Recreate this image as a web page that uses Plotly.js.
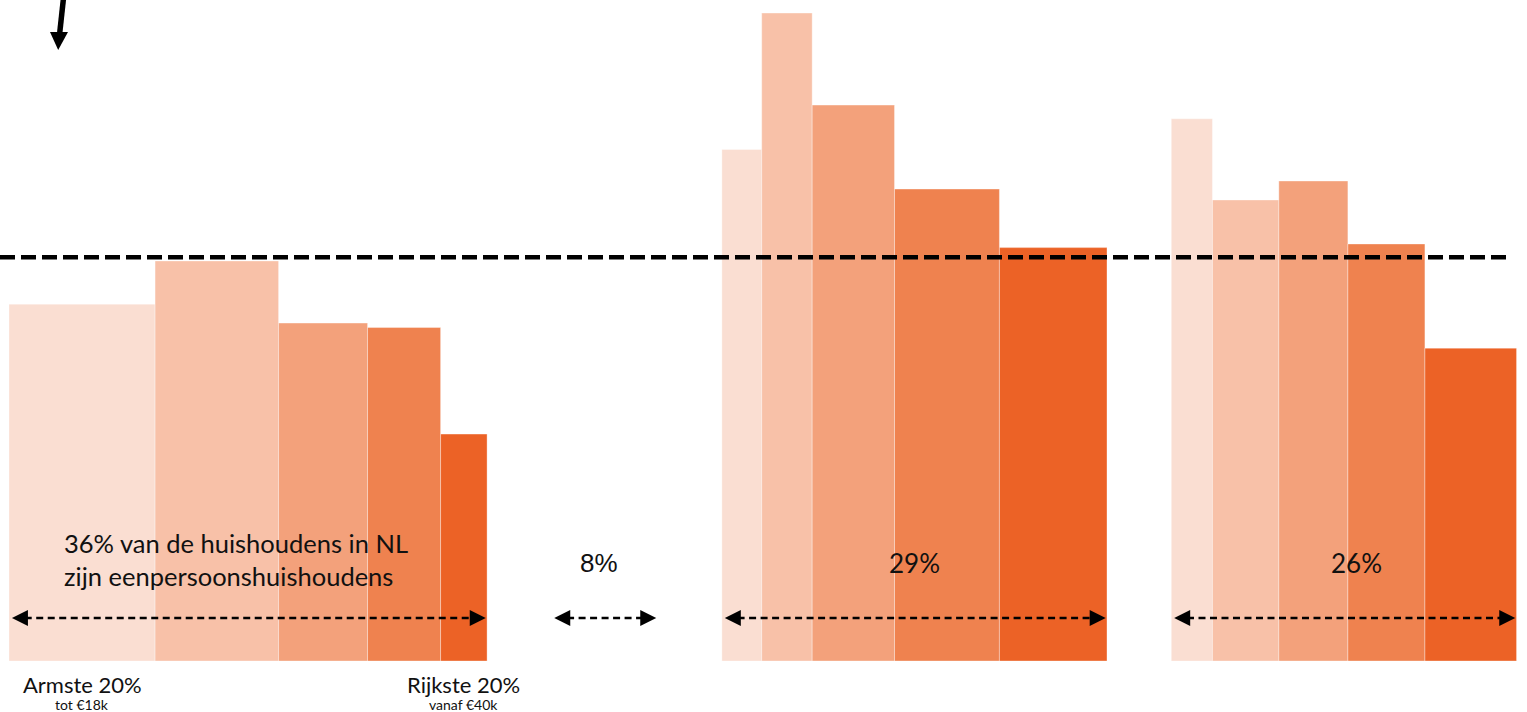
<!DOCTYPE html>
<html>
<head>
<meta charset="utf-8">
<script src="https://cdn.plot.ly/plotly-3.0.1.min.js"></script>
<style>html,body{margin:0;padding:0;background:#fff;}#chart{width:1527px;height:712px;}</style>
</head>
<body>
<div id="chart"></div>
<script>
// ---- data ----
const quintiles = ['Armste 20%', 'Tweede 20%', 'Middelste 20%', 'Vierde 20%', 'Rijkste 20%'];
const incomeBounds = ['tot €18k', 'vanaf €40k'];
const groupShares = [36, 8, 29, 26];            // % of households per group
const singleText = ['36% van de huishoudens in NL', 'zijn eenpersoonshuishoudens'];
// widths = share of all households (%), heights = index (average = 100)
const widthsG1  = [11.0, 9.3, 6.7, 5.5, 3.5];
const heightsG1 = [88.4, 99.1, 83.7, 82.6, 56.2];
const widthsG2  = [];                           // 8% group: no bars shown
const heightsG2 = [];
const widthsG3  = [3.0, 3.8, 6.2, 7.9, 8.1];
const heightsG3 = [126.7, 160.5, 137.7, 116.9, 102.4];
const widthsG4  = [3.1, 5.0, 5.2, 5.8, 6.9];
const heightsG4 = [134.3, 114.2, 118.9, 103.3, 77.5];
const averageLevel = 100;

// ---- styling ----
const colors = ['#FADED2', '#F8C1A8', '#F3A17B', '#EF824F', '#EC6226'];
const GAP = 4.84;
const PXX = 13.28;   // px per % on x
const PXY = 4.037;   // px per index unit on y
const X0PX = 9, BASEPX = 661, W = 1527, H = 712;
const textFont = 'Lato, "Open Sans", sans-serif';

const groups = [
  {w: widthsG1, h: heightsG1},
  {w: widthsG2, h: heightsG2},
  {w: widthsG3, h: heightsG3},
  {w: widthsG4, h: heightsG4}
];
let start = 0;
groups.forEach((g, i) => { g.start = start; g.end = start + groupShares[i]; start = g.end + GAP; });

const traces = quintiles.map((q, qi) => {
  const xs = [], ws = [], ys = [];
  groups.forEach(g => {
    if (!g.w.length) return;
    let cum = g.start;
    for (let k = 0; k < qi; k++) cum += g.w[k];
    xs.push(cum + g.w[qi] / 2); ws.push(g.w[qi]); ys.push(g.h[qi]);
  });
  return {
    type: 'bar', name: q, x: xs, y: ys, width: ws,
    marker: {color: colors[qi], line: {width: 1, color: 'rgba(255,255,255,0.35)'}},
    hoverinfo: 'name+y', showlegend: false
  };
});

const xpx = px => (px - X0PX) / PXX;
const ypx = py => (BASEPX - py) / PXY;

const shapes = [];
// average dashed line
shapes.push({type: 'line', xref: 'paper', yref: 'y', x0: 0, x1: 1512 / W, y0: averageLevel, y1: averageLevel,
  line: {color: '#000', width: 4.5, dash: '15px,6px'}});

// group double arrows
const arrowY = ypx(618);
const headL = 16 / PXX, headH = 8 / PXY;
groups.forEach(g => {
  const a = g.start + 0.22, b = g.end - 0.1;
  shapes.push({type: 'line', xref: 'x', yref: 'y', x0: a + headL * 0.8, x1: b - headL * 0.8, y0: arrowY, y1: arrowY,
    line: {color: '#000', width: 2.6, dash: '7px,4.5px'}});
  shapes.push({type: 'path', xref: 'x', yref: 'y', fillcolor: '#000', line: {width: 0},
    path: `M${a},${arrowY} L${a + headL},${arrowY + headH} L${a + headL},${arrowY - headH} Z`});
  shapes.push({type: 'path', xref: 'x', yref: 'y', fillcolor: '#000', line: {width: 0},
    path: `M${b},${arrowY} L${b - headL},${arrowY + headH} L${b - headL},${arrowY - headH} Z`});
});

// top-left arrow (pointing down)
const PX = px => px / W, PY = py => (BASEPX - py) / BASEPX;
shapes.push({type: 'line', xref: 'paper', yref: 'paper', x0: PX(63.5), y0: PY(-2), x1: PX(59.6), y1: PY(34),
  line: {color: '#000', width: 5.5}});
shapes.push({type: 'path', xref: 'paper', yref: 'paper', fillcolor: '#000', line: {width: 0},
  path: `M${PX(50)},${PY(32)} L${PX(68)},${PY(32)} L${PX(58.2)},${PY(50)} Z`});

// annotations
const ann = [];
const mainSize = 26;
ann.push({xref: 'x', yref: 'y', x: xpx(62), y: ypx(559), xanchor: 'left', yanchor: 'middle', showarrow: false,
  align: 'left', text: singleText.join('<br>'), font: {family: textFont, size: 25.5, color: '#111'}});
const labelShift = [0, -5, 0, 13];
groups.forEach((g, i) => {
  if (i === 0) return;
  ann.push({xref: 'x', yref: 'y', x: (g.start + g.end) / 2, y: ypx(563), xshift: labelShift[i], showarrow: false,
    xanchor: 'center', yanchor: 'middle', text: groupShares[i] + '%',
    font: {family: i === 1 ? '"Liberation Sans", Arial, sans-serif' : textFont, size: mainSize, color: '#111'}});
});
// quintile end labels under first group
const g1 = groups[0];
const firstC = g1.start + g1.w[0] / 2;
const lastC = g1.end - g1.w[4] / 2;
[[firstC, 0], [lastC, 4]].forEach(([cx, qi], j) => {
  ann.push({xref: 'x', yref: 'paper', x: cx, y: PY(685), showarrow: false, xanchor: 'center', yanchor: 'middle',
    text: quintiles[qi], font: {family: textFont, size: 22, color: '#111'}});
  ann.push({xref: 'x', yref: 'paper', x: cx, y: PY(704), showarrow: false, xanchor: 'center', yanchor: 'middle',
    text: incomeBounds[j], font: {family: textFont, size: 14, color: '#111'}});
});

const layout = {
  width: W, height: H,
  margin: {l: 0, r: 0, t: 0, b: H - BASEPX, pad: 0},
  paper_bgcolor: '#fff', plot_bgcolor: '#fff',
  barmode: 'overlay', bargap: 0,
  xaxis: {range: [xpx(0), xpx(W)], showgrid: false, zeroline: false, showticklabels: false, showline: false, ticks: '', fixedrange: true},
  yaxis: {range: [0, ypx(0)], showgrid: false, zeroline: false, showticklabels: false, showline: false, ticks: '', fixedrange: true},
  shapes: shapes, annotations: ann, showlegend: false
};
Plotly.newPlot('chart', traces, layout, {displayModeBar: false, staticPlot: true});
</script>
</body>
</html>
